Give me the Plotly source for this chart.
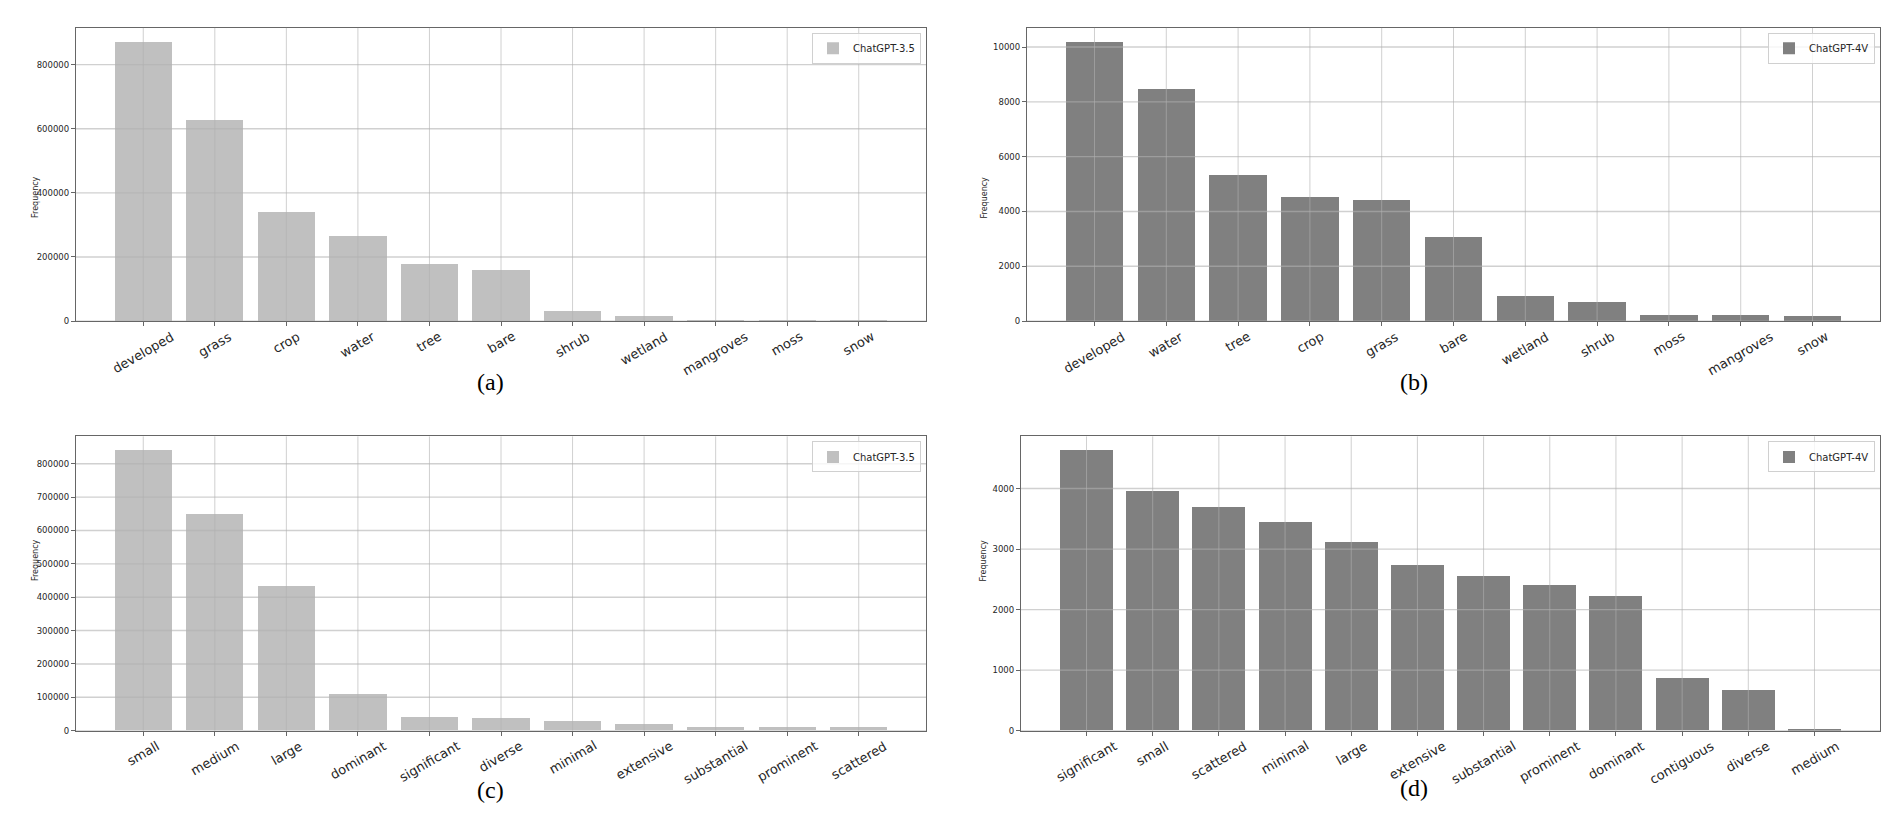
import plotly.graph_objects as go
from plotly.subplots import make_subplots

# (a) land-cover words, ChatGPT-3.5
LAND_35_NAMES = ["developed", "grass", "crop", "water", "tree", "bare",
                 "shrub", "wetland", "mangroves", "moss", "snow"]
LAND_35_VALUES = [871000, 628000, 340000, 266000, 180000, 160000,
                  31000, 17500, 3000, 1500, 800]
LAND_35_TICKS = [0, 200000, 400000, 600000, 800000]

# (b) land-cover words, ChatGPT-4V
LAND_4V_NAMES = ["developed", "water", "tree", "crop", "grass", "bare",
                 "wetland", "shrub", "moss", "mangroves", "snow"]
LAND_4V_VALUES = [10190, 8460, 5350, 4540, 4440, 3070, 930, 690, 230, 225, 205]
LAND_4V_TICKS = [0, 2000, 4000, 6000, 8000, 10000]

# (c) adjectives, ChatGPT-3.5
ADJ_35_NAMES = ["small", "medium", "large", "dominant", "significant", "diverse",
                "minimal", "extensive", "substantial", "prominent", "scattered"]
ADJ_35_VALUES = [840000, 648000, 433000, 108000, 40000, 36000,
                 27000, 20000, 11000, 10000, 9000]
ADJ_35_TICKS = [0, 100000, 200000, 300000, 400000, 500000, 600000, 700000, 800000]

# (d) adjectives, ChatGPT-4V
ADJ_4V_NAMES = ["significant", "small", "scattered", "minimal", "large", "extensive",
                "substantial", "prominent", "dominant", "contiguous", "diverse", "medium"]
ADJ_4V_VALUES = [4630, 3956, 3693, 3440, 3106, 2738, 2546, 2403, 2217, 867, 669, 5]
ADJ_4V_TICKS = [0, 1000, 2000, 3000, 4000]

SILVER = "#c0c0c0"
GRAY = "#808080"
GRID = "rgba(176,176,176,0.6)"
SPINE = "#666666"
TXT = "#262626"
SANS = "DejaVu Sans"

W, H = 1892, 834
# plot area of each panel in pixels: left, right, top, bottom
BOXES = [(68, 918, 20, 315), (1019, 1872, 20, 315),
         (68, 918, 431, 727), (1013, 1872, 431, 727)]
TAGS = [("(a)", 467, 376), ("(b)", 1422, 376), ("(c)", 467, 802), ("(d)", 1422, 800)]

panels = [
    (LAND_35_NAMES, LAND_35_VALUES, LAND_35_TICKS, "ChatGPT-3.5", SILVER),
    (LAND_4V_NAMES, LAND_4V_VALUES, LAND_4V_TICKS, "ChatGPT-4V", GRAY),
    (ADJ_35_NAMES, ADJ_35_VALUES, ADJ_35_TICKS, "ChatGPT-3.5", SILVER),
    (ADJ_4V_NAMES, ADJ_4V_VALUES, ADJ_4V_TICKS, "ChatGPT-4V", GRAY),
]

fig = make_subplots(rows=2, cols=2)
shapes, annotations, legends = [], [], {}

for i, (names, vals, ticks, label, color) in enumerate(panels):
    k = i + 1
    row, col = i // 2 + 1, i % 2 + 1
    sfx = "" if k == 1 else str(k)
    leg = "legend" + sfx
    fig.add_bar(x=names, y=vals, name=label, width=0.8, marker_color=color,
                marker_line_width=0, legend=leg, showlegend=True, row=row, col=col)

    left, right, top, bottom = BOXES[i]
    n = len(names)
    pad = 0.05 * (n - 0.2)
    fig.update_xaxes(domain=[left / W, right / W], range=[-0.4 - pad, n - 0.6 + pad],
                     showgrid=False, zeroline=False, showline=True, mirror=True,
                     linecolor=SPINE, linewidth=1.3, ticks="outside", ticklen=4,
                     tickcolor=SPINE, showticklabels=False, row=row, col=col)
    fig.update_yaxes(domain=[1 - bottom / H, 1 - top / H], range=[0, max(vals) * 1.05],
                     tickvals=ticks, ticktext=[str(t) for t in ticks],
                     showgrid=False, zeroline=False, showline=True, mirror=True,
                     linecolor=SPINE, linewidth=1.3, ticks="outside", ticklen=4,
                     tickcolor=SPINE, tickfont=dict(family=SANS, size=8.5, color=TXT),
                     row=row, col=col)

    xr, yr = "x" + sfx, "y" + sfx
    # grid drawn on top of the bars, as in the original
    for j, _ in enumerate(names):
        shapes.append(dict(type="line", xref=xr, yref=yr + " domain", x0=j, x1=j,
                           y0=0, y1=1, layer="above", line=dict(color=GRID, width=1)))
    for t in ticks:
        shapes.append(dict(type="line", xref=xr + " domain", yref=yr, x0=0, x1=1,
                           y0=t, y1=t, layer="above", line=dict(color=GRID, width=1.4)))
    for j, name in enumerate(names):
        annotations.append(dict(x=j, y=0, xref=xr, yref=yr + " domain", text=name,
                                textangle=-30, xanchor="center", yanchor="top", yshift=-5,
                                showarrow=False, font=dict(family=SANS, size=13, color=TXT)))
    annotations.append(dict(x=(21 if col == 1 else 976) / W, y=1 - (top + bottom) / 2 / H,
                            xref="paper", yref="paper", text="Frequency", textangle=-90,
                            showarrow=False, font=dict(family=SANS, size=8, color=TXT)))
    tag, tx, ty = TAGS[i]
    annotations.append(dict(x=tx / W, y=1 - ty / H, xref="paper", yref="paper", text=tag,
                            showarrow=False, font=dict(family="Liberation Serif", size=24,
                                                       color="black")))
    legends[leg] = dict(x=(right - 5) / W, y=1 - (top + 5) / H, xanchor="right", yanchor="top",
                        bgcolor="rgba(255,255,255,0.8)", bordercolor="#d0d0d0", borderwidth=1,
                        font=dict(family=SANS, size=10, color=TXT), tracegroupgap=0)

fig.update_layout(width=W, height=H, margin=dict(l=0, r=0, t=0, b=0),
                  plot_bgcolor="white", paper_bgcolor="white", bargap=0,
                  shapes=shapes, annotations=annotations, **legends)

fig.write_html("out.html")
